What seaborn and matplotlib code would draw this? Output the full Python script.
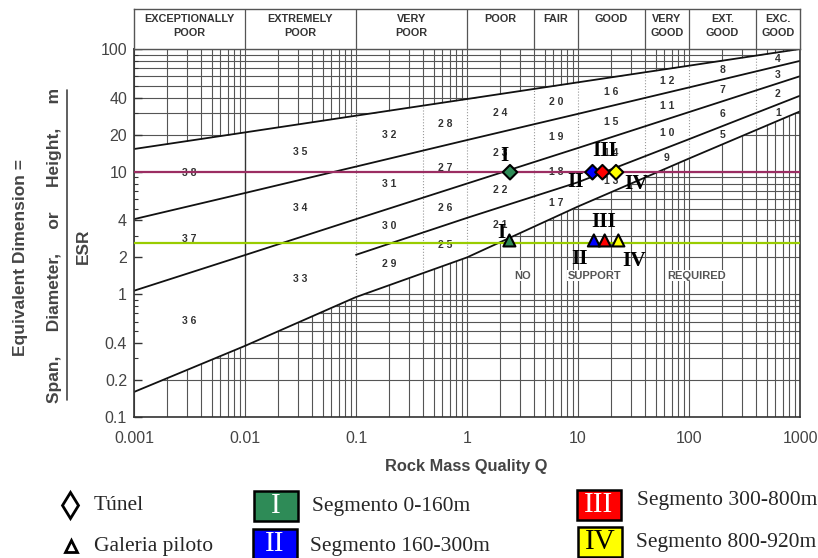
import numpy as np
import pandas as pd
import seaborn as sns
import matplotlib.pyplot as plt
from matplotlib.lines import Line2D
from matplotlib.patches import Rectangle

# Q-system support chart with tunnel and pilot gallery points

# boundary lines of the support chart (Q, equivalent dimension)
q_nodes = [0.001, 0.01, 0.1, 1, 10, 100, 1000]
top_line = [15.3, 20.9, 28.6, 39.1, 53.5, 73.1, 100]
line_c = [4.1, 6.7, 11.0, 18.1, 29.6, 48.6, 80]
line_d = [1.07, 2.09, 4.1, 8.0, 15.6, 30.6, 60]
no_support_line = [0.16, 0.38, 0.95, 2.0, 5.2, 12.8, 31]
q_nodes_e = [0.1, 1, 10, 100, 1000]
line_e = [2.1, 4.2, 8.2, 18.4, 41.6]

rock_classes = ["EXCEPTIONALLY\nPOOR", "EXTREMELY\nPOOR", "VERY\nPOOR", "POOR", "FAIR",
                "GOOD", "VERY\nGOOD", "EXT.\nGOOD", "EXC.\nGOOD"]
class_limits = [0.001, 0.01, 0.1, 1, 4, 10, 40, 100, 400, 1000]

# support categories, each column listed from the bottom band up
column_limits = [0.001, 0.01, 0.1, 0.4, 1, 4, 10, 40, 100, 400, 1000]
column_numbers = [[36, 37, 38], [33, 34, 35], [29, 30, 31, 32], [25, 26, 27, 28],
                  [21, 22, 23, 24], [17, 18, 19, 20], [13, 14, 15, 16], [9, 10, 11, 12],
                  [5, 6, 7, 8], [1, 2, 3, 4]]

segments = ["I", "II", "III", "IV"]
segment_colors = ["#2e8b57", "#0000ff", "#ff0000", "#ffff00"]
segment_text = ["Segmento 0-160m", "Segmento 160-300m", "Segmento 300-800m", "Segmento 800-920m"]
tunel_q = [2.44, 13.5, 16.6, 22.0]
galeria_q = [2.41, 13.9, 17.4, 23.1]
tunel_d = 9.9
galeria_d = 2.75
tunel_level = 9.85
galeria_level = 2.63

y_ticks = [0.1, 0.2, 0.4, 1, 2, 4, 10, 20, 40, 100]
y_labels = ["0.1", "0.2", "0.4", "1", "2", "4", "10", "20", "40", "100"]
x_ticks = [0.001, 0.01, 0.1, 1, 10, 100, 1000]
x_labels = ["0.001", "0.01", "0.1", "1", "10", "100", "1000"]


def at(q, nodes, vals):                     # read a boundary line at Q (straight in log-log)
    return 10 ** np.interp(np.log10(q), np.log10(nodes), np.log10(vals))


def top(q): return at(q, q_nodes, top_line)
def lc(q): return at(q, q_nodes, line_c)
def ld(q): return at(q, q_nodes, line_d)
def le(q): return at(q, q_nodes_e, line_e)
def bottom(q): return at(q, q_nodes, no_support_line)


sns.set_theme(style="white")
plt.rcParams['font.family'] = ['Liberation Sans', 'DejaVu Sans']
grey = "#444444"

fig = plt.figure(figsize=(8.18, 5.58), dpi=100)
ax = fig.add_axes([134 / 818, 1 - 417 / 558, 666 / 818, 368 / 558])
ax.set_xscale("log")
ax.set_yscale("log")
ax.set_xlim(0.001, 1000)
ax.set_ylim(0.1, 100)
ax.set_axisbelow(False)

# log grid drawn by hand so the white support area can cover it
grid_x = [m * 10.0 ** e for e in range(-3, 3) for m in range(1, 10)] + [1000]
grid_y = [m * 10.0 ** e for e in range(-1, 2) for m in range(1, 10)] + [100]
for g in grid_x:
    ax.axvline(g, color="#555555", lw=0.8, zorder=0.2)
for g in grid_y:
    ax.axhline(g, color="#555555", lw=0.8, zorder=0.2)

qq = np.logspace(-3, 3, 300)
ax.fill_between(qq, bottom(qq), top(qq), color="white", lw=0, zorder=0.6)

# category separators inside the support area
for lim in column_limits[1:-1]:
    if lim == 0.01:
        ax.vlines(lim, bottom(lim), top(lim), color="#333333", lw=1.0, zorder=1)
    else:
        ax.vlines(lim, bottom(lim), top(lim), color="#999999", lw=0.8, ls=":", zorder=1)

lines_df = pd.concat([
    pd.DataFrame({"q": q_nodes, "d": top_line, "line": "T"}),
    pd.DataFrame({"q": q_nodes, "d": line_c, "line": "C"}),
    pd.DataFrame({"q": q_nodes, "d": line_d, "line": "D"}),
    pd.DataFrame({"q": q_nodes_e, "d": line_e, "line": "E"}),
    pd.DataFrame({"q": q_nodes, "d": no_support_line, "line": "B"}),
])
sns.lineplot(data=lines_df, x="q", y="d", units="line", estimator=None, sort=False,
             color="#111111", lw=1.3, ax=ax, zorder=2)

# support category numbers in the middle of each band
for i in range(len(column_numbers)):
    a, b = column_limits[i], column_limits[i + 1]
    qm = np.sqrt(a * b)
    bounds = [bottom, ld, lc, top] if b <= 0.1 else [bottom, le, ld, lc, top]
    for k, n in enumerate(column_numbers[i]):
        y = np.sqrt(bounds[k](qm) * bounds[k + 1](qm))
        ax.text(qm, y, " ".join(str(n)), ha="center", va="center", fontsize=7.5,
                fontweight="bold", color="#333333", zorder=2)

for word, qx in zip(["NO", "SUPPORT", "REQUIRED"], [3.2, 14.2, 118]):
    ax.text(qx, 1.42, word, ha="center", va="center", fontsize=8, fontweight="bold",
            color="#555555", zorder=2,
            bbox=dict(facecolor="white", edgecolor="none", pad=0.5))

ax.axhline(tunel_level, color="#9b2d62", lw=1.6, zorder=3)
ax.axhline(galeria_level, color="#99cc00", lw=1.6, zorder=3)

points = pd.DataFrame({
    "q": tunel_q + galeria_q,
    "d": [tunel_d] * 4 + [galeria_d] * 4,
    "seg": segments + segments,
    "tipo": ["Túnel"] * 4 + ["Galeria piloto"] * 4,
})
sns.scatterplot(data=points, x="q", y="d", hue="seg", style="tipo", size="tipo",
                palette=dict(zip(segments, segment_colors)),
                markers={"Túnel": "D", "Galeria piloto": "^"},
                sizes={"Túnel": 55, "Galeria piloto": 75},
                edgecolor="black", linewidth=1.5, legend=False, ax=ax, zorder=5)

offsets = {("Túnel", "I"): (-4.3, 11.5), ("Túnel", "II"): (-12, -7),
           ("Túnel", "III"): (1.4, 15), ("Túnel", "IV"): (14.4, -8.6),
           ("Galeria piloto", "I"): (-5.8, 5), ("Galeria piloto", "II"): (-10, -13.3),
           ("Galeria piloto", "III"): (-0.7, 13), ("Galeria piloto", "IV"): (11.5, -14.8)}
for _, r in points.iterrows():
    ax.annotate(r["seg"], (r["q"], r["d"]), xytext=offsets[(r["tipo"], r["seg"])],
                textcoords="offset points", ha="center", va="center", fontsize=15.5,
                fontweight="bold", family="Liberation Serif", color="black", zorder=6)

ax.set_xticks(x_ticks, labels=x_labels)
ax.set_yticks(y_ticks, labels=y_labels)
ax.tick_params(axis="x", which="both", length=0, pad=10, labelsize=11.5, labelcolor=grey)
ax.tick_params(axis="y", which="major", direction="in", length=6, width=1, pad=5,
               labelsize=11.5, labelcolor=grey, left=True, color="#333333")
ax.tick_params(axis="y", which="minor", direction="in", length=3, width=0.8, left=True,
               color="#333333")
ax.set_xlabel("")
ax.set_ylabel("")
for s in ax.spines.values():
    s.set_color("#333333")
    s.set_linewidth(1.2)

# rock class header
hax = fig.add_axes([134 / 818, 1 - 49 / 558, 666 / 818, 40 / 558])
hax.set_xscale("log")
hax.set_xlim(0.001, 1000)
hax.set_ylim(0, 1)
hax.tick_params(which="both", length=0, labelbottom=False, labelleft=False)
for s in hax.spines.values():
    s.set_color("#555555")
    s.set_linewidth(1.0)
for lim in class_limits[1:-1]:
    hax.axvline(lim, color="#555555", lw=0.9)
for name, a, b in zip(rock_classes, class_limits[:-1], class_limits[1:]):
    for j, row in enumerate(name.split("\n")):
        hax.text(np.sqrt(a * b), [0.74, 0.4][j], row, ha="center", va="center",
                 fontsize=7.8, fontweight="bold", color="#333333")

# axis titles
fig.text(21 / 818, 1 - 257 / 558, "Equivalent Dimension =", rotation=90, ha="center",
         va="center", fontsize=12.5, fontweight="bold", color=grey)
fig.text(55 / 818, 1 - 245 / 558, "Span,     Diameter,     or     Height,     m", rotation=90,
         ha="center", va="center", fontsize=12.5, fontweight="bold", color=grey)
fig.add_artist(Line2D([67 / 818, 67 / 818], [1 - 90 / 558, 1 - 400 / 558],
                      transform=fig.transFigure, color=grey, lw=1.2))
fig.text(83 / 818, 1 - 246 / 558, "ESR", rotation=90, ha="center", va="center",
         fontsize=12.5, fontweight="bold", color=grey)
fig.text(466 / 818, 1 - 467 / 558, "Rock Mass Quality Q", ha="center", va="center",
         fontsize=11.8, fontweight="bold", color=grey)

# legend under the chart
serif = "Liberation Serif"
fig.add_artist(Line2D([70 / 818], [1 - 505 / 558], marker="d", ms=13, mfc="white",
                      mec="black", mew=2, transform=fig.transFigure))
fig.add_artist(Line2D([71 / 818], [1 - 546 / 558], marker="^", ms=9, mfc="white",
                      mec="black", mew=2, transform=fig.transFigure))
fig.text(94 / 818, 1 - 505 / 558, "Túnel", ha="left", va="center", fontsize=15.5, family=serif)
fig.text(94 / 818, 1 - 546 / 558, "Galeria piloto", ha="left", va="center", fontsize=15.5,
         family=serif)

box_xy = [(254, 491), (253, 529), (577, 490), (578, 527)]
text_xy = [(312, 507), (310, 546), (637, 501), (636, 543)]
numeral_colors = ["white", "white", "white", "black"]
for seg, col, txt, (bx, by), (tx, ty), nc in zip(segments, segment_colors, segment_text,
                                                  box_xy, text_xy, numeral_colors):
    fig.add_artist(Rectangle((bx / 818, 1 - (by + 30) / 558), 44 / 818, 30 / 558,
                             facecolor=col, edgecolor="black", lw=1.8,
                             transform=fig.transFigure))
    fig.text((bx + 22) / 818, 1 - (by + 15) / 558, seg, ha="center", va="center",
             fontsize=21, family=serif, color=nc)
    fig.text(tx / 818, 1 - ty / 558, txt, ha="left", va="center", fontsize=15.5, family=serif)

fig.savefig("out.png", dpi=100, facecolor="white")
